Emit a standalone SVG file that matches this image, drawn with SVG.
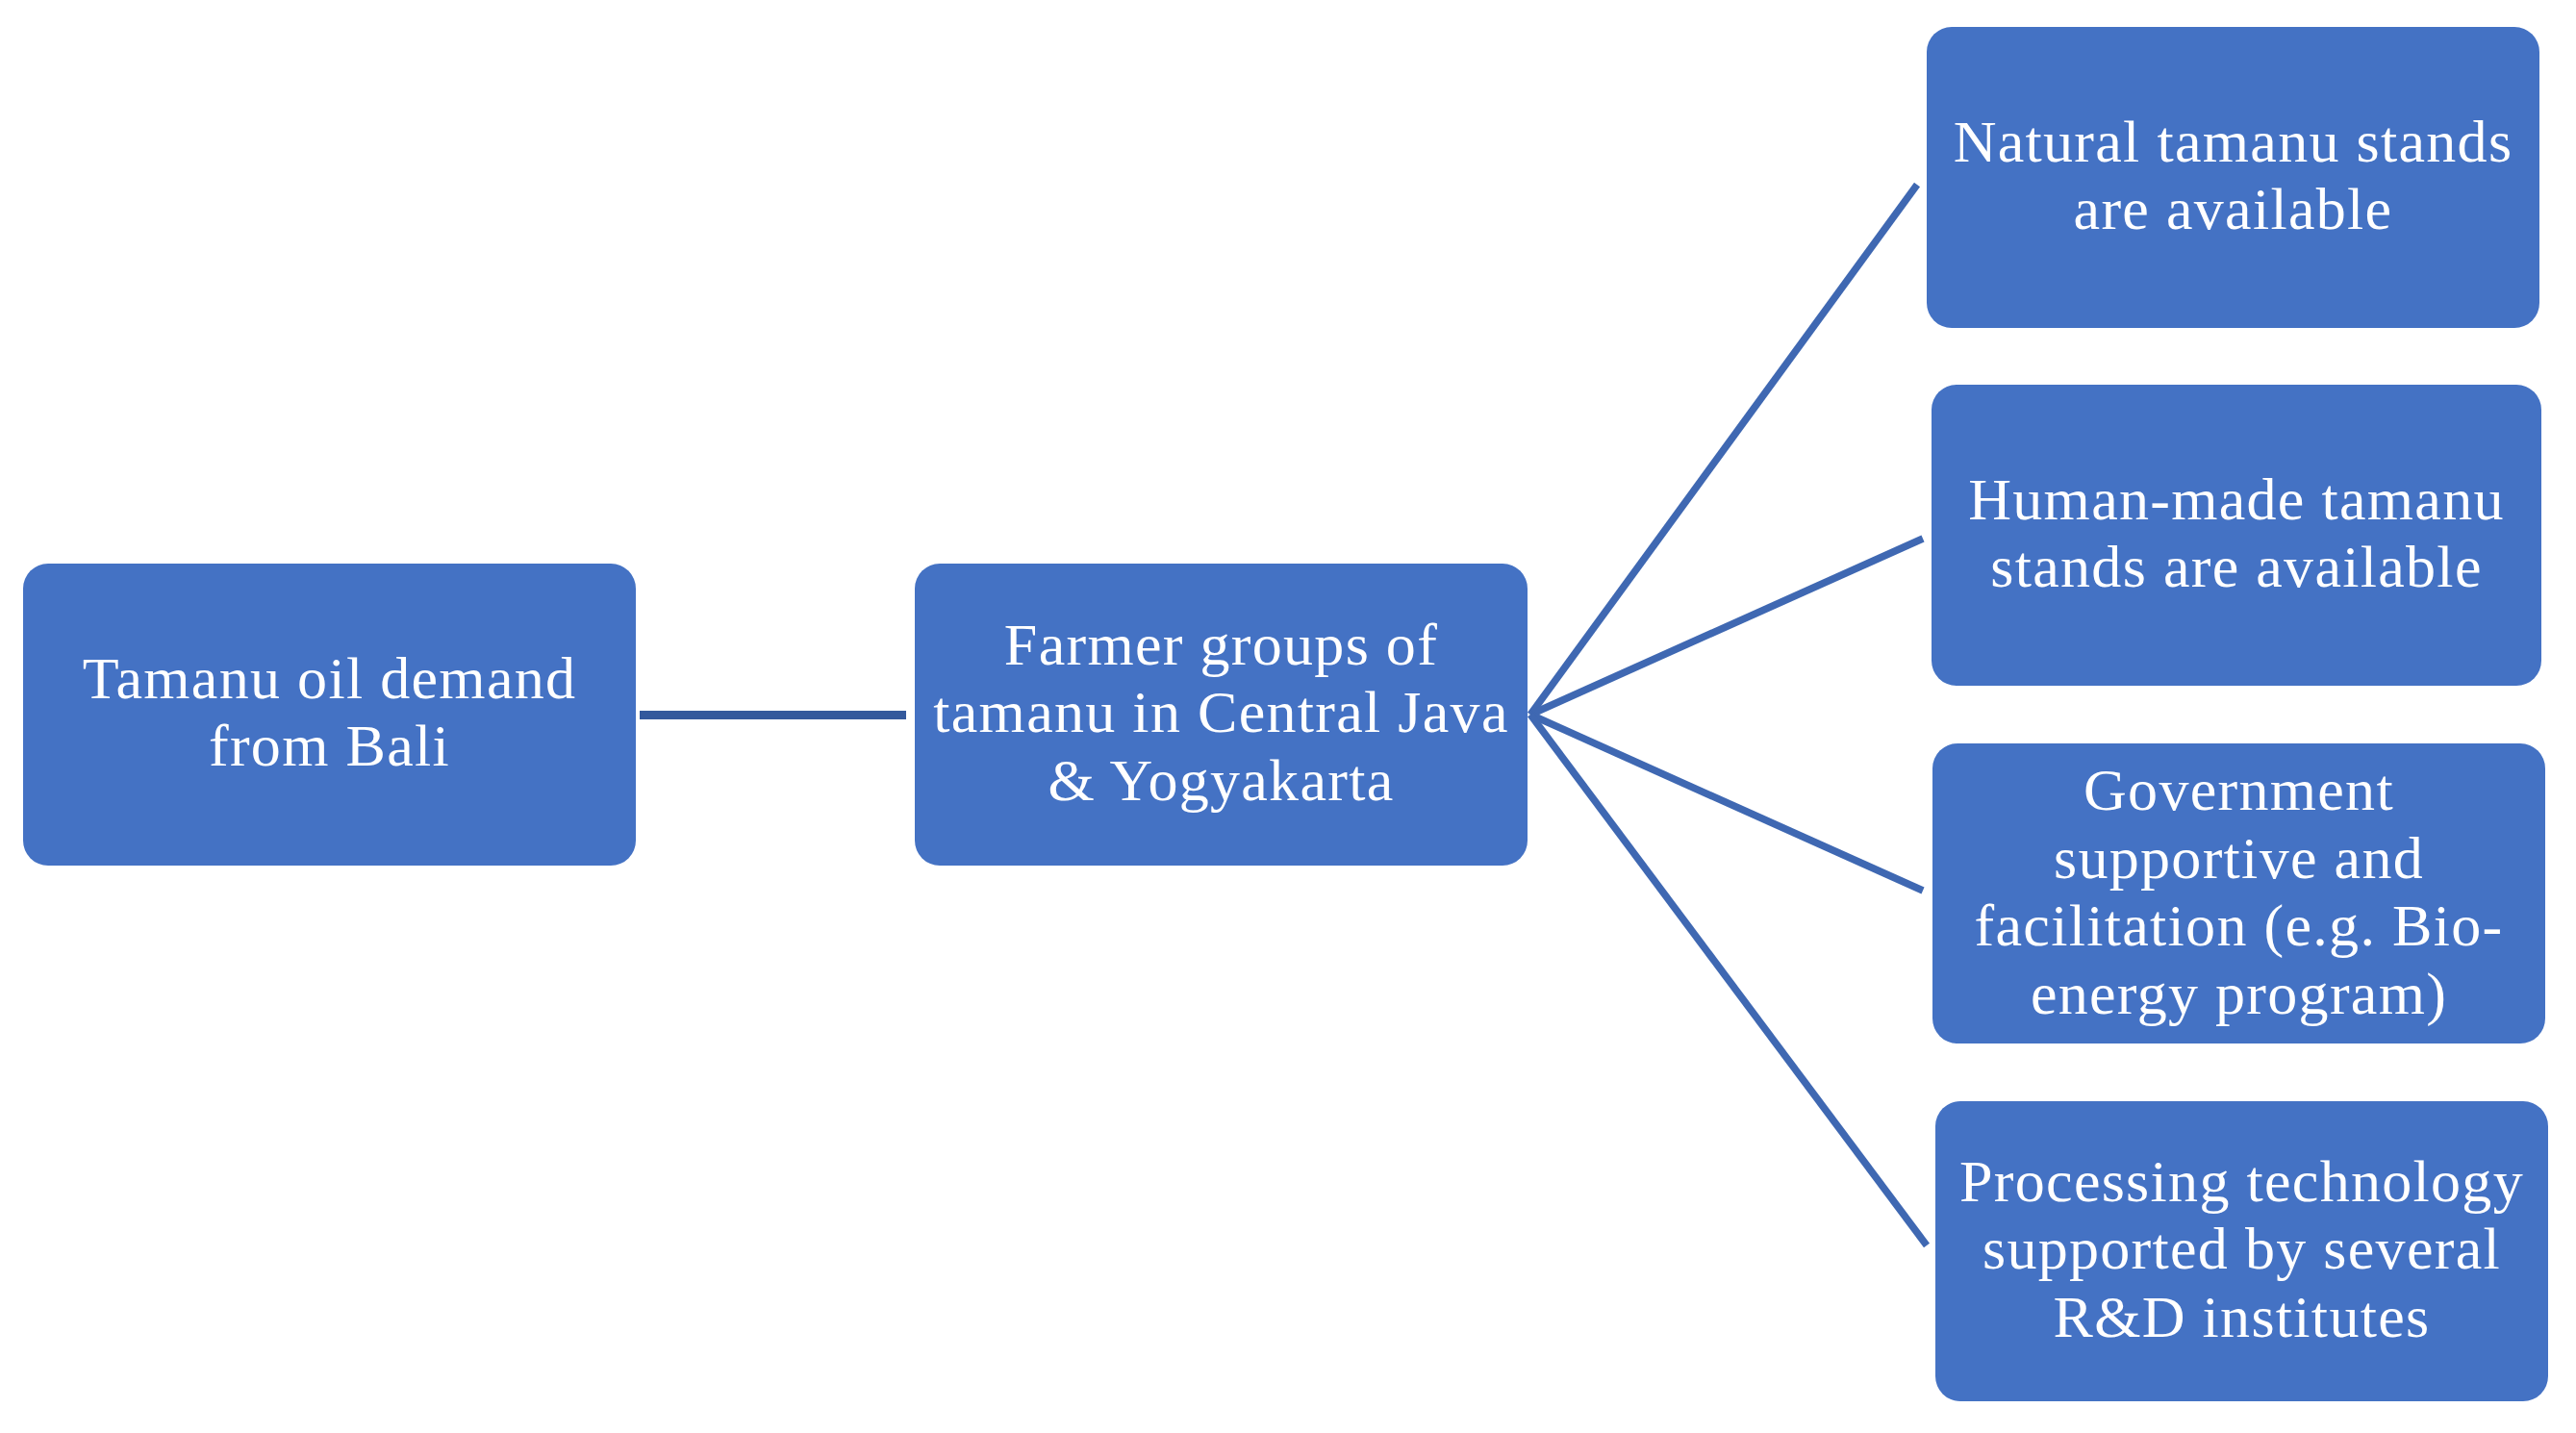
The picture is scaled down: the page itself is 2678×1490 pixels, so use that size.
<svg xmlns="http://www.w3.org/2000/svg" width="2678" height="1490" viewBox="0 0 2678 1490">
<style>
.box{fill:#4472C4;}
.t{font-family:"Liberation Serif","Times New Roman",serif;font-size:62px;letter-spacing:1.3px;fill:#FFFFFF;text-anchor:middle;}
.c1{stroke:#34599C;stroke-width:9;fill:none;}
.c2{stroke:#3F68B2;stroke-width:7.5;fill:none;}
</style>
<rect width="2678" height="1490" fill="#FFFFFF"/>
<g id="connectors">
<line class="c1" x1="665" y1="743.5" x2="942" y2="743.5"/>
<line class="c2" x1="1591" y1="743" x2="1993" y2="192"/>
<line class="c2" x1="1591" y1="743" x2="1999" y2="560"/>
<line class="c2" x1="1591" y1="743" x2="1999" y2="926"/>
<line class="c2" x1="1591" y1="743" x2="2003" y2="1295"/>
</g>
<g id="node-demand">
<rect class="box" x="24" y="586" width="637" height="314" rx="26"/>
<text class="t" x="342.5"><tspan x="342.5" y="726">Tamanu oil demand</tspan><tspan x="342.5" y="796">from Bali</tspan></text>
</g>
<g id="node-farmers">
<rect class="box" x="951" y="586" width="637" height="314" rx="26"/>
<text class="t"><tspan x="1269.5" y="690.5">Farmer groups of</tspan><tspan x="1269.5" y="761">tamanu in Central Java</tspan><tspan x="1269.5" y="831.5">&amp; Yogyakarta</tspan></text>
</g>
<g id="node-natural">
<rect class="box" x="2003" y="28" width="637" height="313" rx="26"/>
<text class="t"><tspan x="2321.5" y="167.5">Natural tamanu stands</tspan><tspan x="2321.5" y="237.5">are available</tspan></text>
</g>
<g id="node-humanmade">
<rect class="box" x="2008" y="400" width="634" height="313" rx="26"/>
<text class="t"><tspan x="2325" y="539.5">Human-made tamanu</tspan><tspan x="2325" y="610">stands are available</tspan></text>
</g>
<g id="node-government">
<rect class="box" x="2009" y="773" width="637" height="312" rx="26"/>
<text class="t"><tspan x="2327.5" y="842">Government</tspan><tspan x="2327.5" y="912.5">supportive and</tspan><tspan x="2327.5" y="983">facilitation (e.g. Bio-</tspan><tspan x="2327.5" y="1053.5">energy program)</tspan></text>
</g>
<g id="node-processing">
<rect class="box" x="2012" y="1145" width="637" height="312" rx="26"/>
<text class="t"><tspan x="2330.5" y="1248.5">Processing technology</tspan><tspan x="2330.5" y="1319">supported by several</tspan><tspan x="2330.5" y="1389.5">R&amp;D institutes</tspan></text>
</g>
</svg>
